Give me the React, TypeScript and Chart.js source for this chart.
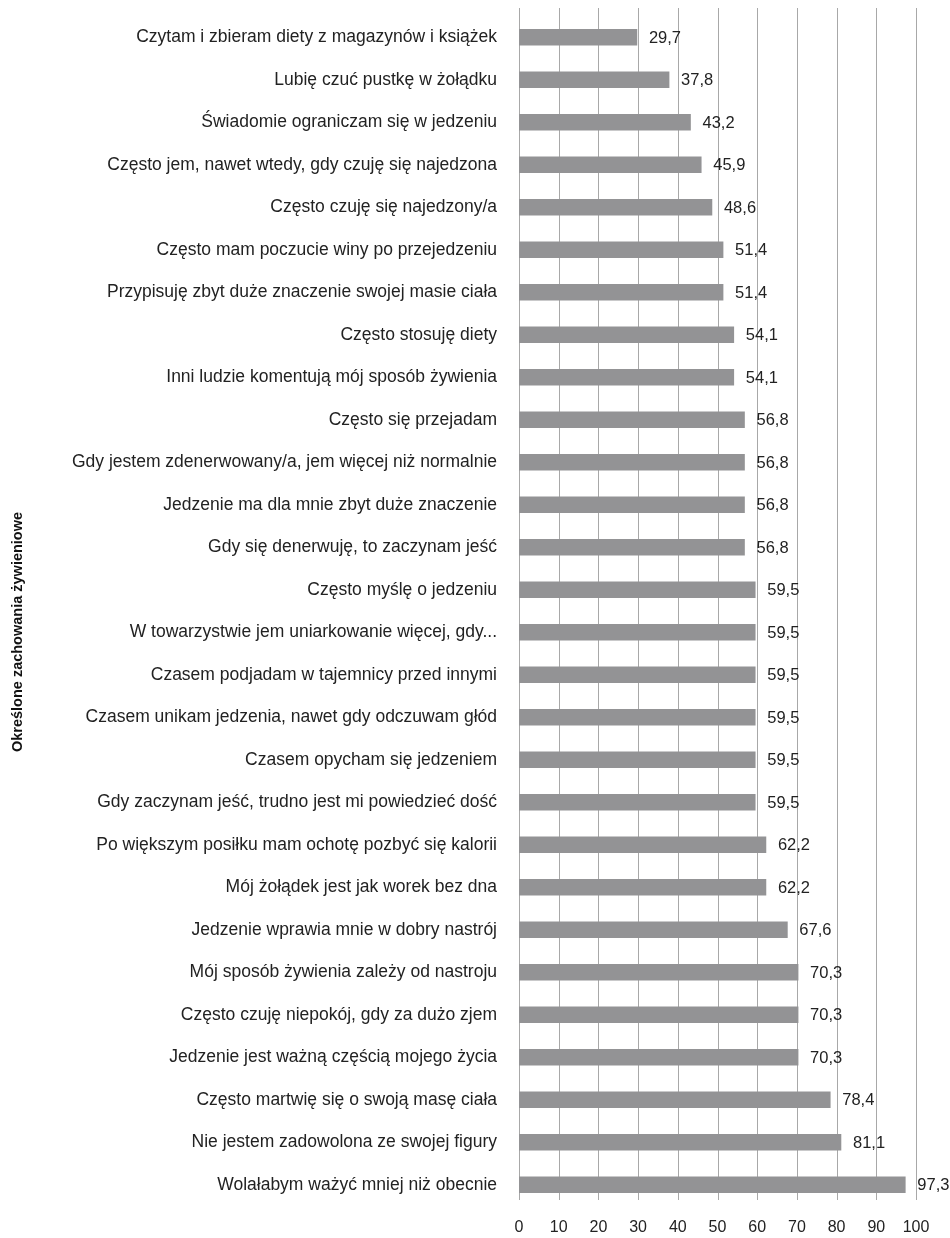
import React, { useEffect, useRef } from 'react';
import { Chart, registerables } from 'chart.js';

Chart.register(...registerables);

const categories = [
  'Czytam i zbieram diety z magazynów i książek',
  'Lubię czuć pustkę w żołądku',
  'Świadomie ograniczam się w jedzeniu',
  'Często jem, nawet wtedy, gdy czuję się najedzona',
  'Często czuję się najedzony/a',
  'Często mam poczucie winy po przejedzeniu',
  'Przypisuję zbyt duże znaczenie swojej masie ciała',
  'Często stosuję diety',
  'Inni ludzie komentują mój sposób żywienia',
  'Często się przejadam',
  'Gdy jestem zdenerwowany/a, jem więcej niż normalnie',
  'Jedzenie ma dla mnie zbyt duże znaczenie',
  'Gdy się denerwuję, to zaczynam jeść',
  'Często myślę o jedzeniu',
  'W towarzystwie jem uniarkowanie więcej, gdy...',
  'Czasem podjadam w tajemnicy przed innymi',
  'Czasem unikam jedzenia, nawet gdy odczuwam głód',
  'Czasem opycham się jedzeniem',
  'Gdy zaczynam jeść, trudno jest mi powiedzieć dość',
  'Po większym posiłku mam ochotę pozbyć się kalorii',
  'Mój żołądek jest jak worek bez dna',
  'Jedzenie wprawia mnie w dobry nastrój',
  'Mój sposób żywienia zależy od nastroju',
  'Często czuję niepokój, gdy za dużo zjem',
  'Jedzenie jest ważną częścią mojego życia',
  'Często martwię się o swoją masę ciała',
  'Nie jestem zadowolona ze swojej figury',
  'Wolałabym ważyć mniej niż obecnie',
];

const values = [
  29.7, 37.8, 43.2, 45.9, 48.6, 51.4, 51.4, 54.1, 54.1, 56.8, 56.8, 56.8, 56.8, 59.5,
  59.5, 59.5, 59.5, 59.5, 59.5, 62.2, 62.2, 67.6, 70.3, 70.3, 70.3, 78.4, 81.1, 97.3,
];

const xTicks = [0, 10, 20, 30, 40, 50, 60, 70, 80, 90, 100];

const axisTitle = 'Określone zachowania żywieniowe';

const FONT = "'Liberation Sans', Arial, sans-serif";

export default function App() {
  const canvasRef = useRef<HTMLCanvasElement | null>(null);

  useEffect(() => {
    document.body.style.margin = '0';
    const canvas = canvasRef.current;
    if (!canvas) return;

    const gridPlugin = {
      id: 'customGrid',
      beforeDatasetsDraw(chart: any) {
        const ctx = chart.ctx;
        const xs = chart.scales.x;
        ctx.save();
        ctx.strokeStyle = '#a8a8a8';
        ctx.lineWidth = 1;
        xTicks.forEach((v) => {
          const x = Math.round(xs.getPixelForValue(v)) + 0.5;
          ctx.beginPath();
          ctx.moveTo(x, 8);
          ctx.lineTo(x, 1200);
          ctx.stroke();
        });
        ctx.restore();
      },
    };

    const valueLabelPlugin = {
      id: 'valueLabels',
      afterDatasetsDraw(chart: any) {
        const ctx = chart.ctx;
        const meta = chart.getDatasetMeta(0);
        ctx.save();
        ctx.fillStyle = '#222';
        ctx.font = `16.5px ${FONT}`;
        ctx.textAlign = 'left';
        ctx.textBaseline = 'middle';
        meta.data.forEach((el: any, i: number) => {
          const txt = values[i].toFixed(1).replace('.', ',');
          ctx.fillText(txt, el.x + 12, el.y + 1);
        });
        ctx.restore();
      },
    };

    const titlePlugin = {
      id: 'yTitle',
      afterDraw(chart: any) {
        const ctx = chart.ctx;
        ctx.save();
        ctx.translate(18, 632);
        ctx.rotate(-Math.PI / 2);
        ctx.fillStyle = '#111';
        ctx.font = `bold 14.5px ${FONT}`;
        ctx.textAlign = 'center';
        ctx.textBaseline = 'middle';
        ctx.fillText(axisTitle, 0, 0);
        ctx.restore();
      },
    };

    const chart = new Chart(canvas, {
      type: 'bar',
      data: {
        labels: categories,
        datasets: [
          {
            data: values,
            backgroundColor: '#939395',
            borderWidth: 0,
            barThickness: 16,
          },
        ],
      },
      options: {
        indexAxis: 'y',
        responsive: false,
        animation: false,
        devicePixelRatio: 1,
        layout: { autoPadding: false, padding: { top: 16, right: 34, bottom: 0, left: 0 } },
        plugins: {
          legend: { display: false },
          tooltip: { enabled: false },
        },
        scales: {
          x: {
            min: 0,
            max: 100,
            grid: { display: false, drawTicks: false },
            border: { display: false },
            ticks: {
              stepSize: 10,
              color: '#222',
              font: { family: FONT, size: 16 },
              padding: 12,
            },
            afterFit(s: any) {
              s.height = 32;
              s.paddingLeft = 0;
              s.paddingRight = 0;
            },
          },
          y: {
            grid: { display: false, drawTicks: false },
            border: { display: false },
            ticks: {
              autoSkip: false,
              color: '#222',
              font: { family: FONT, size: 17.5 },
              padding: 22,
            },
            afterFit(s: any) {
              s.width = 519;
              s.paddingTop = 0;
              s.paddingBottom = 0;
            },
          },
        },
      },
      plugins: [gridPlugin, valueLabelPlugin, titlePlugin],
    });

    return () => chart.destroy();
  }, []);

  return (
    <div style={{ width: 950, height: 1238, background: '#fff' }}>
      <canvas ref={canvasRef} width={950} height={1238} />
    </div>
  );
}
